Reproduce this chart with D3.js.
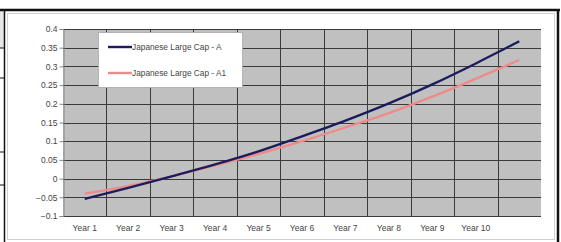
<!DOCTYPE html>
<html>
<head>
<meta charset="utf-8">
<script src="https://cdn.jsdelivr.net/npm/d3@7"></script>
<style>
  body { margin: 0; background: #fff; }
  svg { display: block; font-family: "Liberation Sans", Arial, sans-serif; }
</style>
</head>
<body>
<div id="chart"></div>
<script>
// category labels (the 11th point has no label)
const years = ["Year 1", "Year 2", "Year 3", "Year 4", "Year 5", "Year 6", "Year 7", "Year 8", "Year 9", "Year 10", ""]
const seriesA = [-0.054, -0.025, 0.006, 0.038, 0.073, 0.113, 0.155, 0.201, 0.252, 0.308, 0.367]
const seriesA1 = [-0.040, -0.020, 0.006, 0.035, 0.066, 0.100, 0.137, 0.175, 0.219, 0.267, 0.317]
const yTicks = [-0.1, -0.05, 0, 0.05, 0.1, 0.15, 0.2, 0.25, 0.3, 0.35, 0.4]
const seriesNames = ["Japanese Large Cap - A", "Japanese Large Cap - A1"]
const seriesColors = ["#1c1c5c", "#f08a8a"]

const width = 561, height = 242
const plot = { left: 63, right: 541, top: 29, bottom: 216 }

const svg = d3.select("#chart").append("svg")
  .attr("width", width)
  .attr("height", height)

// surrounding page frame (table borders)
svg.append("rect").attr("x", 0).attr("y", 11).attr("width", 4).attr("height", 37).attr("fill", "#e6e6e6")
;[48, 78, 152, 185].forEach((y) => {
  svg.append("line").attr("x1", 0).attr("x2", 4).attr("y1", y).attr("y2", y)
    .attr("stroke", "#333").attr("stroke-width", 1.2)
})
svg.append("line").attr("x1", 0).attr("x2", 560).attr("y1", 10).attr("y2", 10)
  .attr("stroke", "#111").attr("stroke-width", 2.5)
svg.append("line").attr("x1", 4.5).attr("x2", 4.5).attr("y1", 10).attr("y2", 242)
  .attr("stroke", "#111").attr("stroke-width", 1.5)
svg.append("line").attr("x1", 558).attr("x2", 558).attr("y1", 10).attr("y2", 242)
  .attr("stroke", "#111").attr("stroke-width", 2.5)

// chart area
svg.append("rect")
  .attr("x", 7.5).attr("y", 13.5).attr("width", 547).attr("height", 226)
  .attr("fill", "#fff").attr("stroke", "#cfcfcf")

// scales
const x = d3.scaleBand().domain(d3.range(years.length)).range([plot.left, plot.right])
const y = d3.scaleLinear().domain([-0.1, 0.4]).range([plot.bottom, plot.top])

// plot area
svg.append("rect")
  .attr("x", plot.left).attr("y", plot.top)
  .attr("width", plot.right - plot.left).attr("height", plot.bottom - plot.top)
  .attr("fill", "#c0c0c0")

// horizontal gridlines
svg.append("g").selectAll("line").data(yTicks).join("line")
  .attr("x1", plot.left).attr("x2", plot.right)
  .attr("y1", (d) => Math.round(y(d)) + 0.5).attr("y2", (d) => Math.round(y(d)) + 0.5)
  .attr("stroke", "#3a3a3a").attr("stroke-width", 1)

// vertical gridlines at category boundaries
svg.append("g").selectAll("line").data(d3.range(1, years.length)).join("line")
  .attr("x1", (i) => Math.round(x(i)) + 0.5).attr("x2", (i) => Math.round(x(i)) + 0.5)
  .attr("y1", plot.top).attr("y2", plot.bottom)
  .attr("stroke", "#3a3a3a").attr("stroke-width", 1)

// y axis
const yAxis = svg.append("g")
  .attr("transform", `translate(${plot.left + 0.5},0)`)
  .call(d3.axisLeft(y).tickValues(yTicks).tickSize(4).tickPadding(2).tickFormat((d) => d3.format("")(+d.toFixed(2))))
yAxis.select(".domain").attr("stroke", "#888")
yAxis.selectAll(".tick line").attr("stroke", "#888")
yAxis.selectAll("text").attr("fill", "#444").style("font-size", "8.5px")

// x axis labels
svg.append("g").selectAll("text").data(years).join("text")
  .attr("x", (d, i) => x(i) + x.bandwidth() / 2)
  .attr("y", 231)
  .attr("text-anchor", "middle")
  .attr("fill", "#444")
  .style("font-size", "8.5px")
  .text((d) => d)

// series lines (smoothed like the original)
const line = d3.line()
  .x((d, i) => x(i) + x.bandwidth() / 2)
  .y((d) => y(d))
  .curve(d3.curveCatmullRom.alpha(0.5))

;[seriesA1, seriesA].forEach((values, k) => {
  svg.append("path")
    .datum(values)
    .attr("fill", "none")
    .attr("stroke", seriesColors[1 - k])
    .attr("stroke-width", 2.3)
    .attr("stroke-linejoin", "round")
    .attr("d", line)
})

// legend
const legend = svg.append("g")
legend.append("rect")
  .attr("x", 98.5).attr("y", 32.5).attr("width", 144).attr("height", 55)
  .attr("fill", "#fff").attr("stroke", "#aaa").attr("stroke-width", 0.8)
seriesNames.forEach((name, i) => {
  const ly = 47 + i * 26
  legend.append("line")
    .attr("x1", 108).attr("x2", 132).attr("y1", ly).attr("y2", ly)
    .attr("stroke", seriesColors[i]).attr("stroke-width", 2.4)
  legend.append("text")
    .attr("x", 132).attr("y", ly + 3)
    .attr("fill", "#444")
    .style("font-size", "8.3px")
    .text(name)
})
</script>
</body>
</html>
